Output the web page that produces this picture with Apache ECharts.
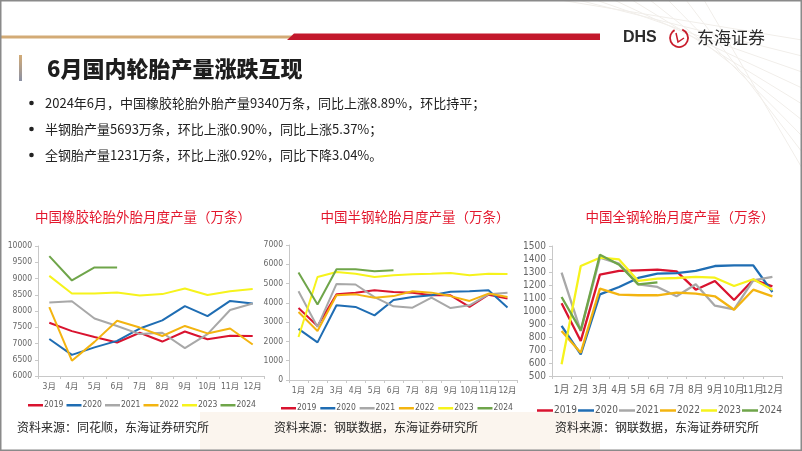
<!DOCTYPE html>
<html><head><meta charset="utf-8">
<script src="https://cdn.jsdelivr.net/npm/echarts@6/dist/echarts.min.js"></script>
<style>html,body{margin:0;padding:0;background:#fff}#c{width:802px;height:451px}</style>
</head><body><div id="c"></div>
<script>
// ---- data ----
const seriesNames = ['2019','2020','2021','2022','2023','2024'];
const months1 = ['3月','4月','5月','6月','7月','8月','9月','10月','11月','12月'];
const months2 = ['1月','2月','3月','4月','5月','6月','7月','8月','9月','10月','11月','12月'];

const tire2019 = [7640, 7380, 7200, 7030, 7330, 7060, 7370, 7130, 7240, 7230];
const tire2020 = [7140, 6650, 6880, 7080, 7460, 7710, 8150, 7840, 8310, 8230];
const tire2021 = [8260, 8300, 7770, 7540, 7290, 7330, 6860, 7290, 8030, 8230];
const tire2022 = [8120, 6470, 7050, 7700, 7490, 7230, 7540, 7310, 7460, 6970];
const tire2023 = [9080, 8540, 8540, 8570, 8480, 8520, 8690, 8490, 8610, 8680];
const tire2024 = [9690, 8940, 9340, 9340];

const semi2019 = [3730, 2800, 4440, 4520, 4650, 4560, 4530, 4390, 4390, 3790, 4420, 4220];
const semi2020 = [2650, 1950, 3880, 3790, 3350, 4150, 4300, 4390, 4580, 4600, 4650, 3760];
const semi2021 = [4600, 2750, 4980, 4950, 4300, 3820, 3750, 4270, 3730, 3870, 4440, 4520];
const semi2022 = [3530, 2540, 4390, 4440, 4270, 4350, 4600, 4530, 4350, 4100, 4480, 4300];
const semi2023 = [2230, 5340, 5600, 5510, 5340, 5430, 5480, 5510, 5550, 5430, 5510, 5500];
const semi2024 = [5570, 3920, 5740, 5740, 5640, 5693];

const steel2019 = [1060, 770, 1280, 1308, 1313, 1318, 1305, 1164, 1231, 1085, 1241, 1190];
const steel2020 = [885, 667, 1128, 1185, 1254, 1287, 1292, 1308, 1346, 1351, 1351, 1146];
const steel2021 = [1295, 846, 1410, 1364, 1205, 1185, 1113, 1205, 1041, 1013, 1236, 1262];
const steel2022 = [846, 679, 1172, 1126, 1121, 1121, 1141, 1133, 1113, 1010, 1164, 1113];
const steel2023 = [590, 1346, 1410, 1397, 1231, 1249, 1254, 1262, 1256, 1192, 1244, 1164];
const steel2024 = [1108, 851, 1433, 1356, 1205, 1220];

const yTicks1 = {min: 6000, max: 10000, interval: 500};
const yTicks2 = {min: 0, max: 7000, interval: 1000};
const yTicks3 = {min: 500, max: 1500, interval: 100};

// ---- styling ----
const colors = ['#d9132f', '#1f6db3', '#a8a8a8', '#f3b410', '#f6f31c', '#6fa54a'];
const FONT = '"Noto Sans CJK SC", "Noto Sans", sans-serif';
const NUMFONT = '"Liberation Sans Narrow", "DejaVu Sans Condensed", "Liberation Sans", "Noto Sans CJK SC", sans-serif';

const groups = [
  [tire2019, tire2020, tire2021, tire2022, tire2023, tire2024],
  [semi2019, semi2020, semi2021, semi2022, semi2023, semi2024],
  [steel2019, steel2020, steel2021, steel2022, steel2023, steel2024]
];

const grids = [
  {left: 38, top: 246, width: 226, height: 130},
  {left: 289, top: 245, width: 228, height: 135},
  {left: 552, top: 246, width: 230, height: 130}
];
const labelSize = [8.5, 8.5, 10];
const lineW = [2, 2, 2.3];

const xAxis = [months1, months2, months2].map((d, i) => ({
  type: 'category', gridIndex: i, data: d, boundaryGap: true,
  axisLine: {lineStyle: {color: '#c8c8c8'}},
  axisTick: {show: true, length: 3, lineStyle: {color: '#c8c8c8'}},
  axisLabel: {color: '#666', fontSize: labelSize[i], fontFamily: NUMFONT, margin: i === 2 ? 9 : 7, interval: 0, hideOverlap: false}
}));
const yAxis = [yTicks1, yTicks2, yTicks3].map((t, i) => ({
  type: 'value', gridIndex: i, min: t.min, max: t.max, interval: t.interval,
  splitLine: {show: false},
  axisLine: {show: true, lineStyle: {color: '#c8c8c8'}},
  axisTick: {show: true, length: 3, lineStyle: {color: '#c8c8c8'}},
  axisLabel: {color: '#666', fontSize: labelSize[i], fontFamily: NUMFONT, margin: 6, formatter: v => String(v)}
}));

const series = [];
groups.forEach((g, gi) => {
  g.forEach((arr, si) => {
    series.push({
      name: seriesNames[si], type: 'line', xAxisIndex: gi, yAxisIndex: gi,
      data: arr, showSymbol: false, symbol: 'none', smooth: false,
      lineStyle: {width: lineW[gi], color: colors[si]}, itemStyle: {color: colors[si]},
      z: 2 + si
    });
  });
});

// one legend per item so each sits where the reference puts it
const legendRows = [
  {x0: 28, step: 38.5, top: 401, fs: 8.5, w: 15},
  {x0: 281, step: 39.3, top: 404, fs: 8.5, w: 15},
  {x0: 537, step: 41, top: 405.5, fs: 10, w: 16}
];
const legend = [];
legendRows.forEach(r => {
  seriesNames.forEach((n, i) => {
    legend.push({
      data: [n], left: r.x0 + i * r.step, top: r.top, itemWidth: r.w, itemHeight: 2.5, icon: 'rect',
      selectedMode: false, padding: 0,
      textStyle: {color: '#595959', fontSize: r.fs, fontFamily: NUMFONT, padding: [0, 0, 0, -4]}
    });
  });
});

function txt(x, y, text, font, fill, align) {
  return {type: 'text', x: x, y: y, silent: true,
    style: {text: text, font: font, fill: fill, textAlign: align || 'left', textVerticalAlign: 'middle'}};
}

const bullets = [
  '2024年6月，中国橡胶轮胎外胎产量9340万条，同比上涨8.89%，环比持平；',
  '半钢胎产量5693万条，环比上涨0.90%，同比上涨5.37%；',
  '全钢胎产量1231万条，环比上涨0.92%，同比下降3.04%。'
];
const chartTitles = ['中国橡胶轮胎外胎月度产量（万条）', '中国半钢轮胎月度产量（万条）', '中国全钢轮胎月度产量（万条）'];
const sources = ['资料来源：同花顺，东海证券研究所', '资料来源：钢联数据，东海证券研究所', '资料来源：钢联数据，东海证券研究所'];

const graphic = [
  // faint background decor
  {type: 'rect', shape: {x: 200, y: 412, width: 400, height: 39}, style: {fill: '#fbf5ee'}, silent: true, z: -10}
];
for (let k = 0; k < 9; k++) {
  graphic.push({type: 'line', shape: {x1: 560 + k * 18, y1: 0, x2: 802, y2: 40 + k * 16},
    style: {stroke: '#f1eeea', lineWidth: 1}, silent: true, z: -10});
}
graphic.push(
  // stripes
  {type: 'rect', shape: {x: 0, y: 35.5, width: 292, height: 3}, style: {fill: '#d3ab76'}, silent: true},
  {type: 'polygon', shape: {points: [[287, 40], [294, 33.5], [600, 33.5], [600, 40]]}, style: {fill: '#c3182c'}, silent: true},
  // logo
  txt(623, 38, 'DHS', 'bold 16px "Liberation Sans", Arial, sans-serif', '#2b2b2b'),
  {type: 'arc', shape: {cx: 679, cy: 38, r: 9, startAngle: -1.2, endAngle: 4.2}, style: {stroke: '#c81d2c', lineWidth: 1.8, fill: null}, silent: true},
  {type: 'polyline', shape: {points: [[676, 33], [678, 42], [684, 38]]}, style: {stroke: '#c81d2c', lineWidth: 1.5, fill: null}, silent: true},
  txt(697, 38, '东海证券', '17px ' + FONT, '#2b2b2b'),
  // title accent bar
  {type: 'rect', shape: {x: 19, y: 55, width: 3, height: 26},
    style: {fill: new echarts.graphic.LinearGradient(0, 0, 0, 1, [{offset: 0, color: '#d3ab76'}, {offset: 1, color: '#8a90a4'}])}, silent: true},
  txt(47, 69, '6月国内轮胎产量涨跌互现', '900 22px ' + FONT, '#1e1e1e'),
  // slide frame
  {type: 'rect', shape: {x: 0.75, y: 0.75, width: 800.5, height: 449.5}, style: {fill: null, stroke: '#8a8a8a', lineWidth: 1.5}, silent: true, z: 100}
);
bullets.forEach((b, i) => {
  const y = 103 + i * 26;
  graphic.push({type: 'circle', shape: {cx: 31.5, cy: y, r: 2.3}, style: {fill: '#222'}, silent: true});
  graphic.push(txt(45, y, b, '13px ' + FONT, '#222'));
});
[143, 415, 680].forEach((cx, i) => graphic.push(txt(cx, 217, chartTitles[i], '13.5px ' + FONT, '#e3172d', 'center')));
[17, 274, 555].forEach((x, i) => graphic.push(txt(x, 427, sources[i], '12px ' + FONT, '#262626')));

const chart = echarts.init(document.getElementById('c'), null, {renderer: 'canvas'});
chart.setOption({
  animation: false,
  backgroundColor: '#fff',
  grid: grids,
  xAxis: xAxis,
  yAxis: yAxis,
  legend: legend,
  series: series,
  graphic: graphic
});
</script></body></html>
